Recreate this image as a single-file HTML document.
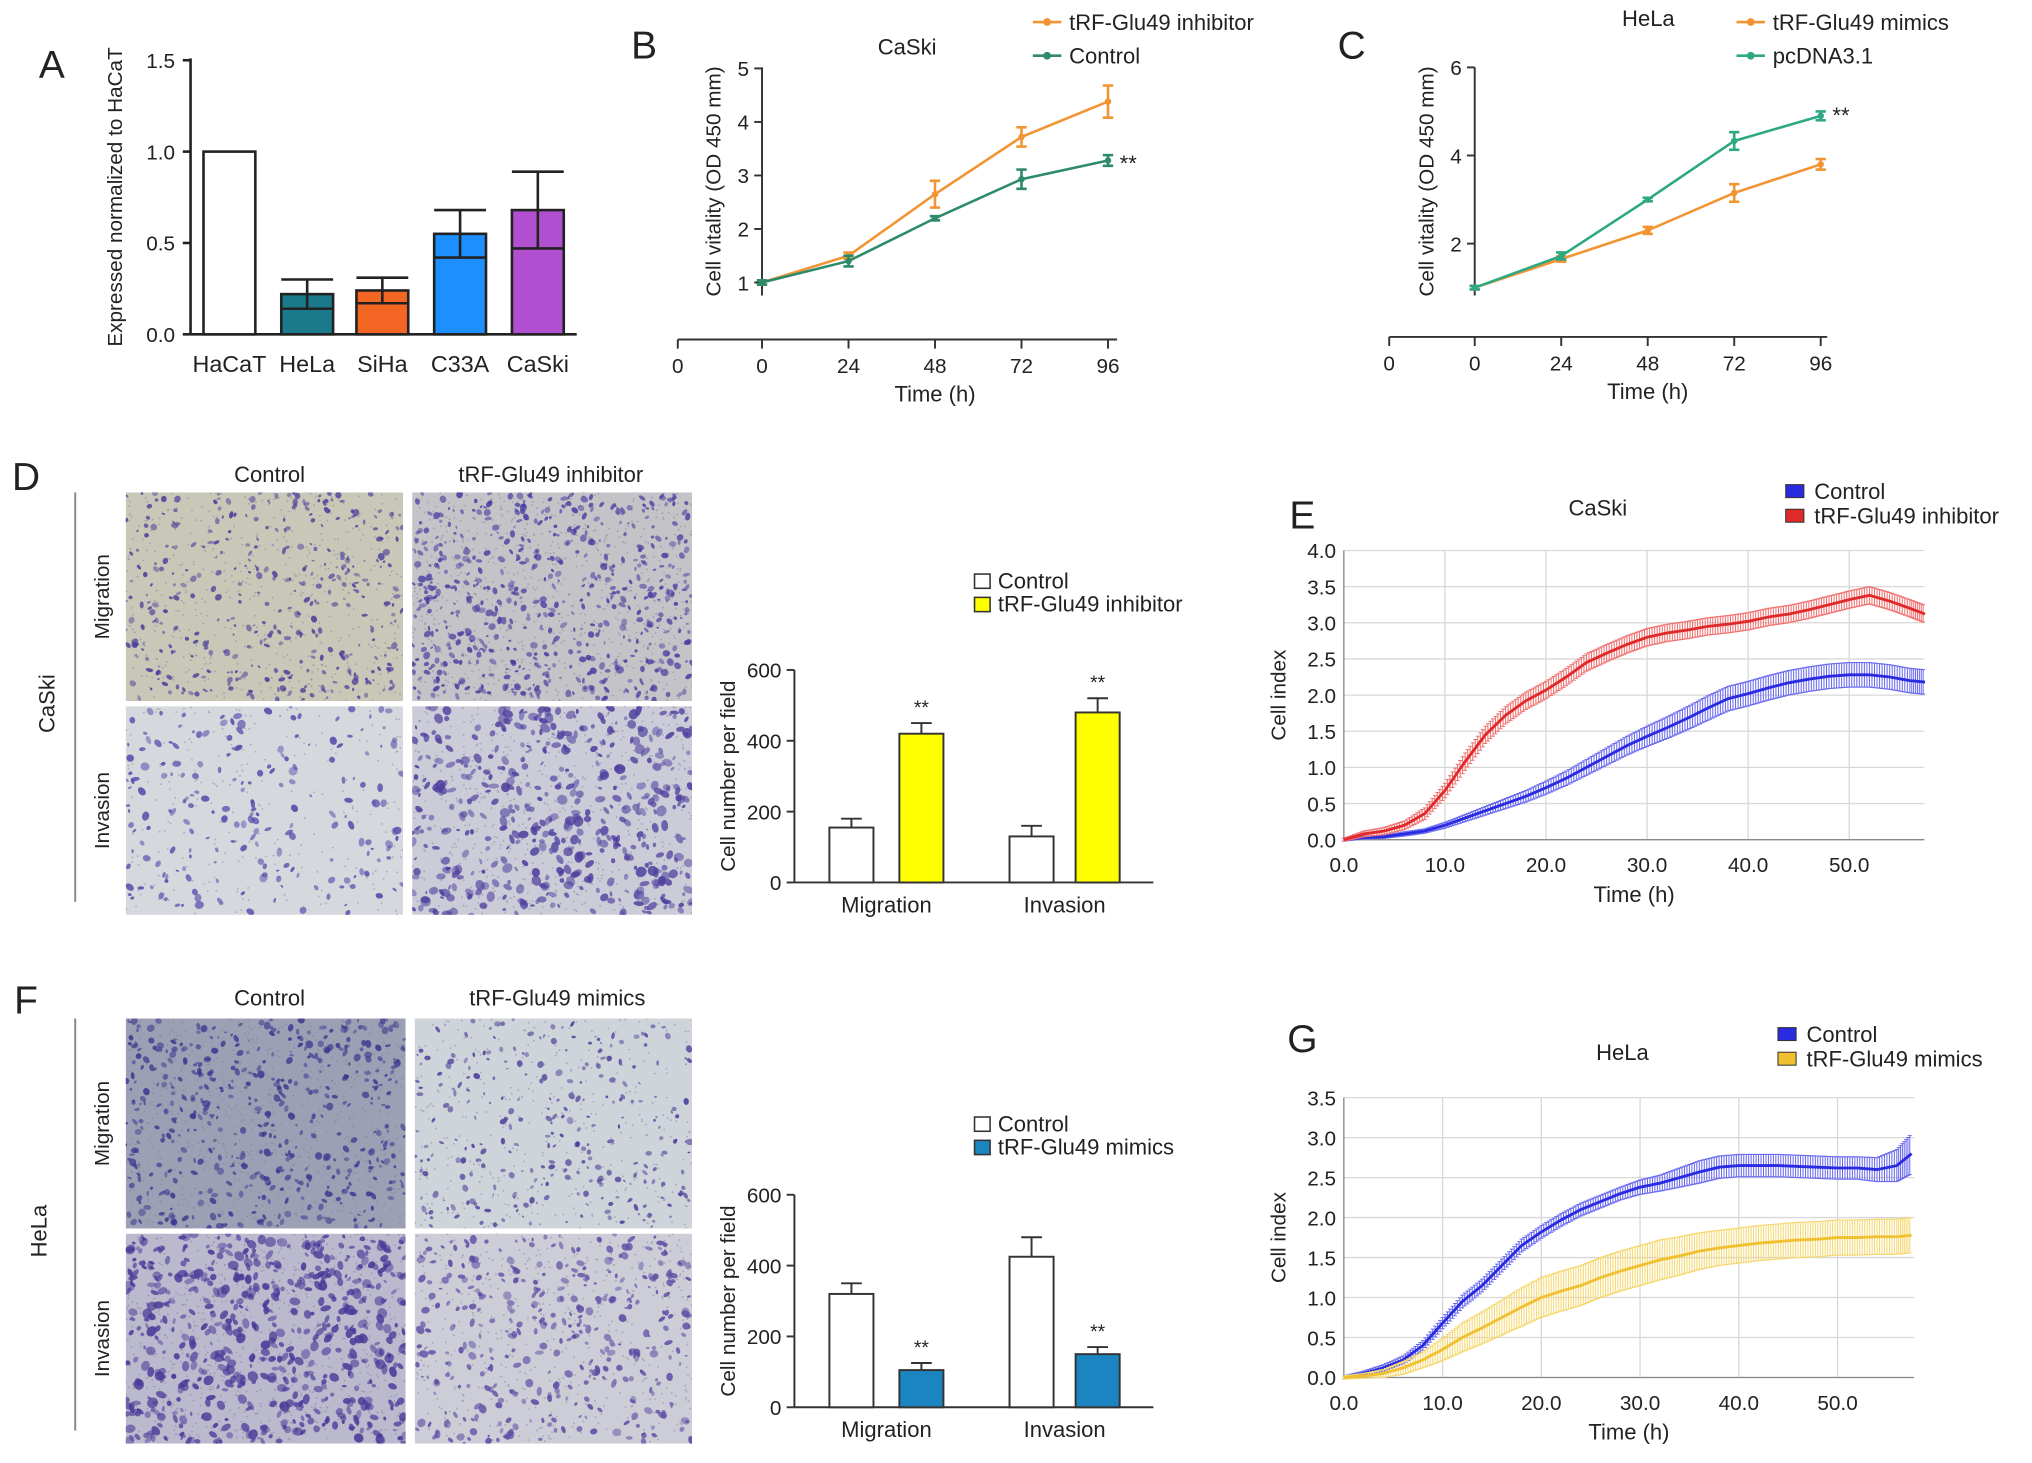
<!DOCTYPE html>
<html><head><meta charset="utf-8"><style>
html,body{margin:0;padding:0;background:#fff;}
svg{display:block;font-family:"Liberation Sans",Arial,sans-serif;}
</style></head><body>
<svg id="fig" width="2032" height="1463" viewBox="0 0 1568 1129" xmlns="http://www.w3.org/2000/svg"></svg>
<script>
// ===== Panel A data =====
const aCats=["HaCaT","HeLa","SiHa","C33A","CaSki"];
const aVals=[1.0,0.22,0.24,0.55,0.68];
const aErr=[0,0.08,0.07,0.13,0.21];
const aColors=["#ffffff","#1a7a8c","#f26522","#1e8fff","#b050d0"];
const aTicks=["0.0","0.5","1.0","1.5"];
// ===== Panel B data =====
const bTimes=[0,24,48,72,96];
const bInhib=[1.0,1.5,2.65,3.72,4.38];
const bInhibErr=[0.04,0.06,0.25,0.18,0.3];
const bCtrl=[1.0,1.4,2.2,2.93,3.28];
const bCtrlErr=[0.04,0.1,0.04,0.18,0.1];
const bYTicks=[1,2,3,4,5];
// ===== Panel C data =====
const cTimes=[0,24,48,72,96];
const cMimics=[1.0,1.65,2.3,3.15,3.8];
const cMimicsErr=[0.04,0.06,0.08,0.2,0.12];
const cPc=[1.0,1.72,3.0,4.33,4.9];
const cPcErr=[0.04,0.08,0.04,0.2,0.1];
const cYTicks=[2,4,6];
// ===== Panel D bar data =====
const dGroups=["Migration","Invasion"];
const dCtrl=[155,130];
const dCtrlErr=[25,30];
const dTreat=[420,480];
const dTreatErr=[30,40];
// ===== Panel F bar data =====
const fCtrl=[320,425];
const fCtrlErr=[30,55];
const fTreat=[105,150];
const fTreatErr=[20,20];
const barYTicks=[0,200,400,600];
// ===== Panel E data =====
const eTimes=[0,2,4,6,8,10,12,14,16,18,20,22,24,26,28,30,32,34,36,38,40,42,44,46,48,50,52,54,56,57.5];
const eRed=[0,0.08,0.12,0.2,0.36,0.68,1.08,1.45,1.72,1.92,2.07,2.25,2.45,2.58,2.7,2.8,2.86,2.9,2.95,2.98,3.02,3.08,3.12,3.18,3.25,3.32,3.38,3.3,3.2,3.12];
const eRedErr=[0.02,0.04,0.05,0.06,0.08,0.1,0.12,0.12,0.12,0.12,0.12,0.12,0.12,0.12,0.12,0.12,0.12,0.12,0.12,0.12,0.12,0.12,0.12,0.12,0.12,0.12,0.12,0.12,0.12,0.12];
const eBlue=[0,0.03,0.04,0.08,0.12,0.2,0.3,0.4,0.5,0.6,0.72,0.85,1.0,1.15,1.3,1.43,1.55,1.68,1.82,1.95,2.02,2.1,2.17,2.22,2.26,2.28,2.28,2.25,2.2,2.18];
const eBlueErr=[0.02,0.02,0.02,0.03,0.03,0.04,0.05,0.06,0.07,0.08,0.09,0.1,0.11,0.12,0.13,0.14,0.15,0.16,0.17,0.17,0.17,0.17,0.17,0.17,0.17,0.17,0.17,0.17,0.17,0.17];
const eYTicks=["0.0","0.5","1.0","1.5","2.0","2.5","3.0","3.5","4.0"];
const eXTicks=["0.0","10.0","20.0","30.0","40.0","50.0"];
// ===== Panel G data =====
const gTimes=[0,2,4,6,8,10,12,14,16,18,20,22,24,26,28,30,32,34,36,38,40,42,44,46,48,50,52,54,56,57.5];
const gBlue=[0,0.05,0.12,0.22,0.4,0.68,0.95,1.15,1.4,1.65,1.82,1.97,2.1,2.2,2.3,2.38,2.43,2.5,2.57,2.63,2.65,2.65,2.65,2.64,2.63,2.62,2.62,2.6,2.65,2.8];
const gBlueErr=[0.02,0.03,0.04,0.05,0.06,0.07,0.08,0.08,0.08,0.08,0.08,0.08,0.08,0.08,0.08,0.09,0.1,0.12,0.14,0.14,0.14,0.14,0.14,0.14,0.14,0.14,0.14,0.15,0.2,0.25];
const gYel=[0,0.02,0.05,0.12,0.22,0.35,0.5,0.62,0.75,0.88,1.0,1.08,1.15,1.25,1.33,1.4,1.47,1.52,1.58,1.62,1.65,1.68,1.7,1.72,1.73,1.75,1.75,1.76,1.76,1.78];
const gYelErr=[0.02,0.03,0.05,0.08,0.1,0.14,0.18,0.2,0.22,0.24,0.25,0.25,0.25,0.25,0.25,0.25,0.25,0.24,0.23,0.22,0.22,0.22,0.22,0.22,0.22,0.22,0.22,0.22,0.22,0.22];
const gYTicks=["0.0","0.5","1.0","1.5","2.0","2.5","3.0","3.5"];

const NS="http://www.w3.org/2000/svg";
const svg=document.getElementById('fig');
function el(tag,attrs,parent,text){const e=document.createElementNS(NS,tag);for(const k in attrs)e.setAttribute(k,attrs[k]);if(text!==undefined)e.textContent=text;(parent||svg).appendChild(e);return e;}
function txt(x,y,s,size,anchor,name,parent,extra){const t=el('text',Object.assign({x:x,y:y,'font-size':size,'text-anchor':anchor||'middle',fill:'#222'},extra||{}),parent,s);


return t;}
function line(x1,y1,x2,y2,c,w,parent,name){const l=el('line',{x1,y1,x2,y2,stroke:c||'#222','stroke-width':w||1.5},parent);


return l;}
function group(name){const g=el('g',{});


return g;}

// ---------- Panel A ----------
(function(){
const g=group('panel-a');
txt(40,60,'A',30,'middle','panel-label-a',g);
const y0=258,ppu=141,ax=147;
const ya=v=>y0-v*ppu;
line(ax,45,ax,y0,'#222',2,g,'y-axis');
line(ax,y0,445,y0,'#222',2,g,'x-axis');
aTicks.forEach(t=>{const y=ya(parseFloat(t));line(ax-6,y,ax,y,'#222',2,g,'y-tick');txt(ax-12,y+6,t,16,'end','y-tick-label',g);});
const bx=[157,217,275,335,395];
aCats.forEach((c,i)=>{
 const x=bx[i],w=40,top=ya(aVals[i]);
 const r=el('rect',{x:x,y:top,width:w,height:y0-top,fill:aColors[i],stroke:'#222','stroke-width':2},g);
 
 
 if(aErr[i]>0){const cx=x+w/2,hi=ya(aVals[i]+aErr[i]),lo=ya(aVals[i]-aErr[i]);
  line(cx,hi,cx,lo,'#222',2,g,'error-bar');line(x,hi,x+w,hi,'#222',2,g,'error-cap');line(x,lo,x+w,lo,'#222',2,g,'error-cap');}
 txt(x+w/2,287,c,18,'middle','x-label-'+c.toLowerCase(),g);
});
txt(0,0,'Expressed normalized to HaCaT',16,'middle','y-axis-title',g,{transform:'translate(94,152) rotate(-90)'});
})();

// ---------- Line chart B/C ----------
function lineChart(o){
 const g=group(o.name);
 txt(o.labelX,o.labelY,o.label,30,'middle','panel-label',g);
 const ya=v=>o.y0-v*o.ppu, xa=t=>o.x0+t*o.ppx;
 line(o.x0,o.yTop,o.x0,o.yBot,'#333',1.5,g,'y-axis');
 line(o.xStart,o.axY,o.xEnd,o.axY,'#333',1.5,g,'x-axis');
 o.yTicks.forEach(t=>{const y=ya(t);line(o.x0-6,y,o.x0,y,'#333',1.5,g,'y-tick');txt(o.x0-10,y+6,String(t),16,'end','y-tick-label',g);});
 line(o.xStart,o.axY,o.xStart,o.axY+7,'#333',1.5,g,'x-tick');txt(o.xStart,o.axY+26,'0',16,'middle','x-tick-label',g);
 o.times.forEach(t=>{const x=xa(t);line(x,o.axY,x,o.axY+7,'#333',1.5,g,'x-tick');txt(x,o.axY+26,String(t),16,'middle','x-tick-label',g);});
 txt((o.x0+xa(96))/2,o.axY+48,'Time (h)',17,'middle','x-axis-title',g);
 txt(0,0,'Cell vitality (OD 450 mm)',16,'middle','y-axis-title',g,{transform:`translate(${o.x0-32},${(o.yTop+o.yBot)/2}) rotate(-90)`});
 txt(o.titleX,o.titleY,o.title,17,'middle','chart-title',g);
 o.series.forEach((s,si)=>{
  const pts=o.times.map((t,i)=>xa(t)+','+ya(s.v[i])).join(' ');
  const pl=el('polyline',{points:pts,fill:'none',stroke:s.c,'stroke-width':2},g);
  
  
  o.times.forEach((t,i)=>{const x=xa(t),hi=ya(s.v[i]+s.e[i]),lo=ya(s.v[i]-s.e[i]);
   line(x,hi,x,lo,s.c,2,g,'error-bar');line(x-4,hi,x+4,hi,s.c,2,g,'error-cap');line(x-4,lo,x+4,lo,s.c,2,g,'error-cap');
   const m=el('circle',{cx:x,cy:ya(s.v[i]),r:2.5,fill:s.c},g);
   
   });
  const ly=o.legY+si*26;
  line(o.legX,ly,o.legX+22,ly,s.c,2,g,'legend-line');
  const lc=el('circle',{cx:o.legX+11,cy:ly,r:3,fill:s.c},g);
  
  
  txt(o.legX+28,ly+6,s.label,17,'start','legend-entry',g);
 });
 txt(o.starX,o.starY,'**',17,'start','significance-stars',g);
}
lineChart({name:'panel-b',label:'B',labelX:497,labelY:45,x0:588,y0:259.3,ppu:41.3,ppx:267/96,yTop:52,yBot:228,xStart:523,xEnd:862,axY:262,
 yTicks:bYTicks,times:bTimes,title:'CaSki',titleX:700,titleY:42,legX:797,legY:17,starX:864,starY:132,
 series:[{key:'inhibitor',label:'tRF-Glu49 inhibitor',c:'#f39433',v:bInhib,e:bInhibErr},{key:'control',label:'Control',c:'#2e8b6a',v:bCtrl,e:bCtrlErr}]});
lineChart({name:'panel-c',label:'C',labelX:1043,labelY:45,x0:1138,y0:256,ppu:34,ppx:267/96,yTop:52,yBot:228,xStart:1072,xEnd:1410,axY:260,
 yTicks:cYTicks,times:cTimes,title:'HeLa',titleX:1272,titleY:20,legX:1340,legY:17,starX:1414,starY:95,
 series:[{key:'mimics',label:'tRF-Glu49 mimics',c:'#f39433',v:cMimics,e:cMimicsErr},{key:'pcdna',label:'pcDNA3.1',c:'#2ea882',v:cPc,e:cPcErr}]});

// ---------- Microscope images ----------
let seed=12345;function rnd(){seed=(seed*1103515245+12345)%2147483648;return seed/2147483648;}
let clipId=0;
const defs=el('defs',{});
function micro(x,y,w,h,bg,n,size,cellCol,name){
 const g=group(name);
 const id='clip'+(clipId++);
 const cp=el('clipPath',{id:id},defs);
 el('rect',{x,y,width:w,height:h},cp);
 g.setAttribute('clip-path','url(#'+id+')');
 el('rect',{x,y,width:w,height:h,fill:bg},g);
 for(let i=0;i<n*1.2;i++){el('circle',{cx:x+rnd()*w,cy:y+rnd()*h,r:0.7,fill:'#7e7e98',opacity:0.5},g);}
 for(let i=0;i<n;i++){const cx=x+rnd()*w,cy=y+rnd()*h;const r=size*(0.4+rnd()*0.8);
  el('ellipse',{cx,cy,rx:r,ry:r*(0.45+rnd()*0.5),transform:`rotate(${rnd()*180} ${cx} ${cy})`,fill:cellCol,opacity:0.45+rnd()*0.45},g);}
}
function imgPanel(o){
 const g=group(o.name);
 txt(o.lx,o.ly,o.label,30,'middle','panel-label',g);
 txt(208,o.hy,'Control',17,'middle','column-header-control',g);
 txt(o.h2x,o.hy,o.h2,17,'middle','column-header-treatment',g);
 line(58,o.r1,58,o.r2+o.h-10,'#888',1.5,g,'row-bracket');
 txt(0,0,o.cell,17,'middle','cell-line-label',g,{transform:`translate(${o.cellX},${(o.r1+o.r2+o.h)/2}) rotate(-90)`});
 txt(0,0,'Migration',16,'middle','row-label-migration',g,{transform:`translate(84,${o.r1+o.h/2}) rotate(-90)`});
 txt(0,0,'Invasion',16,'middle','row-label-invasion',g,{transform:`translate(84,${o.r2+o.h/2}) rotate(-90)`});
 o.imgs.forEach(im=>micro(im[0],im[1],im[2],o.h,im[3],im[4],im[5],im[6],'micrograph'));
}
imgPanel({name:'panel-d-images',label:'D',lx:20,ly:378,hy:372,h2:'tRF-Glu49 inhibitor',h2x:425,cell:'CaSki',cellX:42,r1:380,r2:545,h:161,
 imgs:[[97,380,214,'#c9c7b8',380,2.4,'#4a3f9a'],[318,380,216,'#c4c4c8',600,2.6,'#4b3fa0'],[97,545,214,'#d5d9de',200,3,'#5549aa'],[318,545,216,'#cbccd8',480,3.6,'#4e3f9e']]});
imgPanel({name:'panel-f-images',label:'F',lx:20,ly:782,hy:776,h2:'tRF-Glu49 mimics',h2x:430,cell:'HeLa',cellX:36,r1:786,r2:952,h:162,
 imgs:[[97,786,216,'#9ca0b4',520,2.6,'#3e3890'],[320,786,214,'#cfd3da',280,2.4,'#4a3f98'],[97,952,216,'#bbb9ce',620,3.6,'#4a3a98'],[320,952,214,'#cccdd6',380,3,'#5a4aa4']]});

// ---------- Bar charts D/F ----------
function barChart(o){
 const g=group(o.name);
 const y0=o.y0,ppu=(o.y0-o.yTop)/600,ya=v=>y0-v*ppu,ax=613;
 line(ax,o.yTop,ax,y0,'#333',1.5,g,'y-axis');
 line(ax,y0,890,y0,'#333',1.5,g,'x-axis');
 barYTicks.forEach(t=>{const y=ya(t);line(ax-6,y,ax,y,'#333',1.5,g,'y-tick');txt(ax-10,y+6,String(t),16,'end','y-tick-label',g);});
 txt(0,0,'Cell number per field',16,'middle','y-axis-title',g,{transform:`translate(567,${(o.yTop+y0)/2}) rotate(-90)`});
 const cx=[640,779],tx=[694,830];
 dGroups.forEach((gr,i)=>{
  [[cx[i],o.ctrl[i],o.ctrlE[i],'#fff','control'],[tx[i],o.tr[i],o.trE[i],o.color,'treatment']].forEach(b=>{
   const top=ya(b[1]);
   const r=el('rect',{x:b[0],y:top,width:34,height:y0-top,fill:b[3],stroke:'#333','stroke-width':1.5},g);
   
   
   const ex=b[0]+17,hi=ya(b[1]+b[2]);
   line(ex,top,ex,hi,'#333',1.5,g,'error-bar');line(ex-8,hi,ex+8,hi,'#333',1.5,g,'error-cap');
   if(b[4]==='treatment')txt(ex,hi-7,'**',15,'middle','significance-stars',g);
  });
  txt((cx[i]+tx[i]+34)/2,y0+23,gr,17,'middle','x-label-'+gr.toLowerCase(),g);
 });
 const s1=el('rect',{x:752,y:o.legY-6,width:12,height:11,fill:'#fff',stroke:'#333','stroke-width':1.2},g);
 
 const s2=el('rect',{x:752,y:o.legY+12,width:12,height:11,fill:o.color,stroke:'#333','stroke-width':1.2},g);
 
 txt(770,o.legY+5,'Control',17,'start','legend-entry',g);
 txt(770,o.legY+23,o.legLabel,17,'start','legend-entry',g);
}
barChart({name:'panel-d-bars',y0:681,yTop:517,ctrl:dCtrl,ctrlE:dCtrlErr,tr:dTreat,trE:dTreatErr,color:'#ffff00',legY:449,legLabel:'tRF-Glu49 inhibitor'});
barChart({name:'panel-f-bars',y0:1086,yTop:922,ctrl:fCtrl,ctrlE:fCtrlErr,tr:fTreat,trE:fTreatErr,color:'#1a85c0',legY:868,legLabel:'tRF-Glu49 mimics'});

// ---------- RTCA charts E/G ----------
function rtca(o){
 const g=group(o.name);
 txt(o.lx,o.ly,o.label,30,'middle','panel-label',g);
 const ya=v=>o.y0-v*o.ppu, xa=t=>o.x0+t*o.ppx;
 o.yTicks.forEach(t=>{const y=ya(parseFloat(t));line(o.x0,y,o.xEnd,y,'#d8d8d8',1,g,'grid-line');txt(o.x0-6,y+6,t,16,'end','y-tick-label',g);});
 eXTicks.forEach(t=>{const x=xa(parseFloat(t));line(x,ya(parseFloat(o.yTicks[o.yTicks.length-1])),x,o.y0,'#d8d8d8',1,g,'grid-line');txt(x,o.y0+25,t,16,'middle','x-tick-label',g);});
 line(o.x0,ya(parseFloat(o.yTicks[o.yTicks.length-1])),o.x0,o.y0,'#888',1,g,'y-axis');
 line(o.x0,o.y0,o.xEnd,o.y0,'#888',1,g,'x-axis');
 txt(o.titleX,o.titleY,o.title,17,'middle','chart-title',g);
 txt((o.x0+o.xEnd)/2,o.y0+48,'Time (h)',17,'middle','x-axis-title',g);
 txt(0,0,'Cell index',16,'middle','y-axis-title',g,{transform:`translate(${o.x0-45},${(o.y0+ya(parseFloat(o.yTicks[o.yTicks.length-1])))/2}) rotate(-90)`});
 o.series.forEach((s,si)=>{
  const sub=8;
  for(let i=0;i<o.times.length-1;i++){for(let k=0;k<sub;k++){const f=k/sub;
   const t=o.times[i]+(o.times[i+1]-o.times[i])*f,v=s.v[i]+(s.v[i+1]-s.v[i])*f,e=s.e[i]+(s.e[i+1]-s.e[i])*f;
   const x=xa(t);line(x,ya(v+e),x,ya(v-e),s.eb,0.8,g,'error-bar');line(x-1.5,ya(v+e),x+1.5,ya(v+e),s.eb,0.8,g,'error-cap');line(x-1.5,ya(v-e),x+1.5,ya(v-e),s.eb,0.8,g,'error-cap');}}
  const pts=o.times.map((t,i)=>xa(t)+','+ya(s.v[i])).join(' ');
  const pl=el('polyline',{points:pts,fill:'none',stroke:s.c,'stroke-width':2.2},g);
  
  
  const sw=el('rect',{x:o.legX,y:o.legY-7+si*19,width:14,height:10,fill:s.c,stroke:'#333','stroke-width':0.8},g);
  
  
  txt(o.legX+22,o.legY+4+si*19,s.label,17,'start','legend-entry',g);
 });
}
rtca({name:'panel-e',label:'E',lx:1005,ly:408,x0:1037,xEnd:1485,y0:648,ppu:55.8,ppx:7.8,yTicks:eYTicks,times:eTimes,title:'CaSki',titleX:1233,titleY:398,legX:1378,legY:381,
 series:[{key:'control',label:'Control',c:'#2a2ae0',eb:'#6a6af0',v:eBlue,e:eBlueErr},{key:'inhibitor',label:'tRF-Glu49 inhibitor',c:'#e02a2a',eb:'#f07070',v:eRed,e:eRedErr}]});
rtca({name:'panel-g',label:'G',lx:1005,ly:812,x0:1037,xEnd:1477,y0:1063,ppu:61.7,ppx:7.62,yTicks:gYTicks,times:gTimes,title:'HeLa',titleX:1252,titleY:818,legX:1372,legY:800,
 series:[{key:'control',label:'Control',c:'#2a2ae0',eb:'#6a6af0',v:gBlue,e:gBlueErr},{key:'mimics',label:'tRF-Glu49 mimics',c:'#f0c030',eb:'#f5d870',v:gYel,e:gYelErr}]});
</script>
</body></html>
